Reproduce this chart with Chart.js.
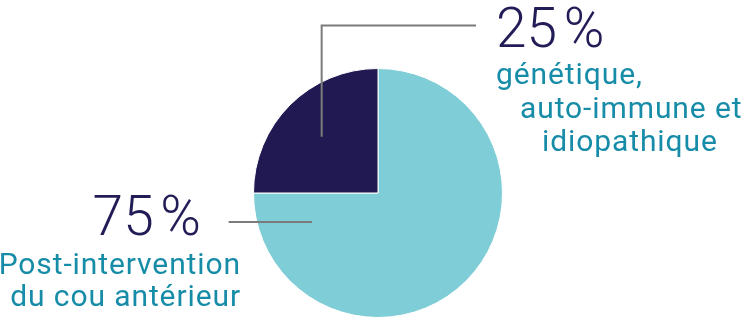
<!DOCTYPE html>
<html>
<head>
<meta charset="utf-8">
<script src="https://cdn.jsdelivr.net/npm/chart.js@4/dist/chart.umd.min.js"></script>
<style>
  html, body { margin: 0; padding: 0; background: #fff; }
  #wrap { width: 755px; height: 318px; }
</style>
</head>
<body>
<div id="wrap"><canvas id="chart" width="755" height="318"></canvas></div>
<script>
// données
const categories = ["Post-intervention du cou antérieur", "génétique, auto-immune et idiopathique"];
const values = [75, 25];
const percentLabels = ["75\u202F%", "25\u202F%"];
const labelLines = [
  ["Post-intervention", "du cou antérieur"],
  ["génétique,", "auto-immune et", "idiopathique"]
];

const sliceColors = ["#7fcdd6", "#211a52"];
const numColor = "#221c57";
const textColor = "#168ca8";
const lineColor = "#7b7b7b";

// étiquettes et lignes de rappel dessinées après le graphique
const calloutPlugin = {
  id: "callouts",
  afterDraw(chart) {
    const ctx = chart.ctx;
    const meta = chart.getDatasetMeta(0);
    const arcDark = meta.data[1];
    const cx = arcDark.x, cy = arcDark.y, r = arcDark.outerRadius;

    ctx.save();
    ctx.strokeStyle = lineColor;
    ctx.lineWidth = 2;

    // ligne vers la part 25 %
    const midDark = (arcDark.startAngle + arcDark.endAngle) / 2;
    const ax = cx + Math.cos(midDark) * r * 0.64;
    const ay = cy + Math.sin(midDark) * r * 0.64;
    ctx.beginPath();
    ctx.moveTo(ax, ay);
    ctx.lineTo(ax, cy - r * 1.345);
    ctx.lineTo(cx + 98, cy - r * 1.345);
    ctx.stroke();

    // ligne vers la part 75 %
    ctx.beginPath();
    ctx.moveTo(cx - r * 0.53, cy + 29);
    ctx.lineTo(cx - r * 1.2, cy + 29);
    ctx.stroke();

    // textes
    ctx.textBaseline = "alphabetic";
    ctx.fillStyle = numColor;
    ctx.font = "300 55px Roboto";
    ctx.textAlign = "left";
    ctx.fillText(percentLabels[1], 496, 47);
    ctx.textAlign = "right";
    ctx.fillText(percentLabels[0], 201, 235);

    ctx.fillStyle = textColor;
    ctx.font = "30px Roboto";
    ctx.letterSpacing = "0.9px";
    ctx.textAlign = "left";
    const rx = [496, 520, 542];
    const ry = [84, 117.5, 151];
    labelLines[1].forEach((t, i) => ctx.fillText(t, rx[i], ry[i]));
    ctx.textAlign = "right";
    const ly = [274, 306];
    labelLines[0].forEach((t, i) => ctx.fillText(t, 241, ly[i]));
    ctx.restore();
  }
};

new Chart(document.getElementById("chart"), {
  type: "pie",
  data: {
    labels: categories,
    datasets: [{
      data: values,
      backgroundColor: sliceColors,
      borderColor: "#ffffff",
      borderWidth: 1
    }]
  },
  options: {
    responsive: false,
    animation: false,
    layout: { padding: { top: 68, bottom: 0, left: 253, right: 252 } },
    plugins: {
      legend: { display: false },
      tooltip: { enabled: false }
    }
  },
  plugins: [calloutPlugin]
});
</script>
</body>
</html>
